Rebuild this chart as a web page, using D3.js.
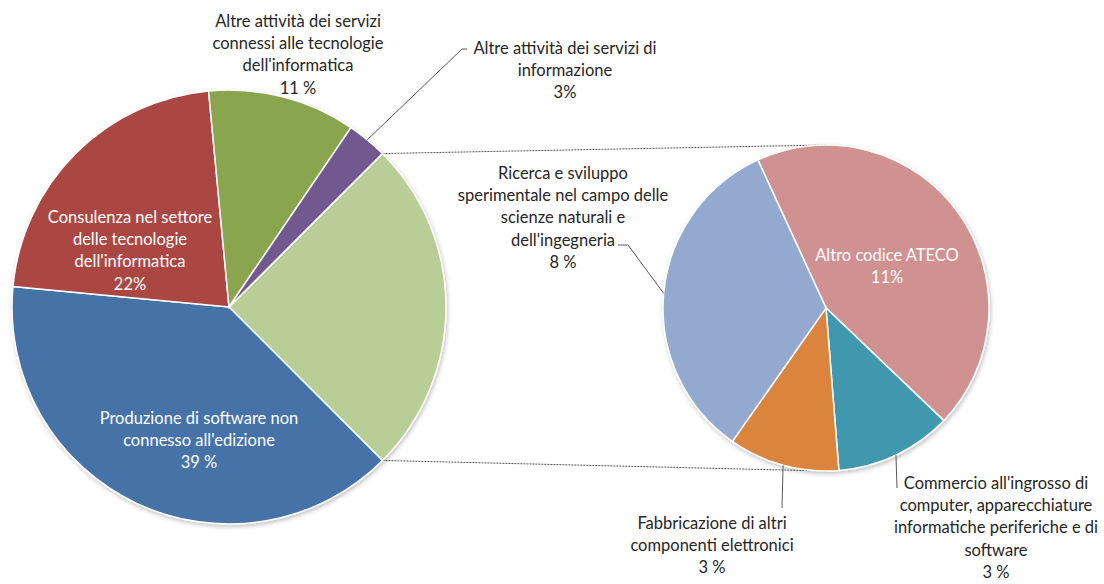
<!DOCTYPE html>
<html><head><meta charset="utf-8">
<script src="https://cdn.jsdelivr.net/npm/d3@7/dist/d3.min.js"></script>
<style>body{margin:0;background:#fff}svg{display:block}</style>
</head><body>
<svg id="c" width="1104" height="584"></svg>
<script>
// ---- data ----
const mainCategories = ["Altro", "Produzione di software non connesso all'edizione", "Consulenza nel settore delle tecnologie dell'informatica", "Altre attività dei servizi connessi alle tecnologie dell'informatica", "Altre attività dei servizi di informazione"];
const mainValues = [null, 39, 22, 11, 3]; // first = sum of secondary pie
const mainPctLabels = ["", "39 %", "22%", "11 %", "3%"];
const subCategories = ["Altro codice ATECO", "Commercio all'ingrosso di computer, apparecchiature informatiche periferiche e di software", "Fabbricazione di altri componenti elettronici", "Ricerca e sviluppo sperimentale nel campo delle scienze naturali e dell'ingegneria"];
const subValues = [11.0, 2.9, 2.75, 8.35];
const subPctLabels = ["11%", "3 %", "3 %", "8 %"];

// ---- layout / style ----
const mainColors = ["#B9CD96", "#4572A7", "#AA4643", "#89A54E", "#71588F"];
const subColors = ["#D09291", "#4198AF", "#DB843D", "#93A9CF"];
const mainLines = [null,
  ["Produzione di software non", "connesso all'edizione"],
  ["Consulenza nel settore", "delle tecnologie", "dell'informatica"],
  ["Altre attività dei servizi", "connessi alle tecnologie", "dell'informatica"],
  ["Altre attività dei servizi di", "informazione"]];
const subLines = [["Altro codice ATECO"],
  ["Commercio all'ingrosso di", "computer, apparecchiature", "informatiche periferiche e di", "software"],
  ["Fabbricazione di altri", "componenti elettronici"],
  ["Ricerca e sviluppo", "sperimentale nel campo delle", "scienze naturali e", "dell'ingegneria"]];
const mainLabelPos = [null, {x:199,y:418,c:"#fff"}, {x:130,y:217,c:"#fff"}, {x:298,y:21,c:"#262626"}, {x:565,y:48,c:"#262626"}];
const subLabelPos = [{x:887,y:255,c:"#fff"}, {x:996,y:483,c:"#262626"}, {x:712,y:523,c:"#262626"}, {x:563,y:173,c:"#262626"}];
const leaderMain = {4: [[462,49],[467,49]]};
const leaderSub = {1: [[897,488]], 2: [[782,508]], 3: [[628,245],[618,245]]};
const lineH = 22.3;
const FONT = "Lato, 'Open Sans', sans-serif";
const FS = 16.5;

const M = {cx:229, cy:307, r:217};
const S = {cx:826, cy:308, r:163};

const svg = d3.select("#c");
const defs = svg.append("defs");
const f = defs.append("filter").attr("id","sh").attr("x","-10%").attr("y","-10%").attr("width","120%").attr("height","120%");
f.append("feDropShadow").attr("dx",1).attr("dy",2).attr("stdDeviation",2).attr("flood-color","#000").attr("flood-opacity",0.25);

const mainVals = mainValues.slice(); mainVals[0] = d3.sum(subValues);
const pieMain = d3.pie().sort(null).value(d=>d).startAngle(Math.PI/4).endAngle(Math.PI/4 + 2*Math.PI);
const mainArcs = pieMain(mainVals);
const subStart = -24.7*Math.PI/180;
const pieSub = d3.pie().sort(null).value(d=>d).startAngle(subStart).endAngle(subStart + 2*Math.PI);
const subArcs = pieSub(subValues);

const pt = (c, a, r) => [c.cx + r*Math.sin(a), c.cy - r*Math.cos(a)];

// connector lines
const o = mainArcs[0];
const conn = [[pt(M, o.startAngle, M.r), [S.cx, S.cy - S.r]], [pt(M, o.endAngle, M.r), [S.cx, S.cy + S.r]]];
svg.selectAll("line.conn").data(conn).enter().append("line")
  .attr("x1",d=>d[0][0]).attr("y1",d=>d[0][1]).attr("x2",d=>d[1][0]).attr("y2",d=>d[1][1])
  .attr("stroke","#555").attr("stroke-width",1).attr("stroke-dasharray","2,1");

const arcM = d3.arc().innerRadius(0).outerRadius(M.r);
const arcS = d3.arc().innerRadius(0).outerRadius(S.r);
svg.append("g").attr("transform",`translate(${M.cx},${M.cy})`).attr("filter","url(#sh)")
  .selectAll("path").data(mainArcs).enter().append("path")
  .attr("d",arcM).attr("fill",(d,i)=>mainColors[i]).attr("stroke","#fff").attr("stroke-width",1.5);
svg.append("g").attr("transform",`translate(${S.cx},${S.cy})`).attr("filter","url(#sh)")
  .selectAll("path").data(subArcs).enter().append("path")
  .attr("d",arcS).attr("fill",(d,i)=>subColors[i]).attr("stroke","#fff").attr("stroke-width",1.5);

// leader lines
function leader(c, a, pts){
  const p0 = pt(c, (a.startAngle+a.endAngle)/2, c.r);
  svg.append("path").attr("d", d3.line()([p0, ...pts])).attr("fill","none").attr("stroke","#595959").attr("stroke-width",1);
}
Object.entries(leaderMain).forEach(([i,p])=>leader(M, mainArcs[+i], p));
Object.entries(leaderSub).forEach(([i,p])=>leader(S, subArcs[+i], p));

// labels
function label(pos, lines, pct){
  const t = svg.append("text").attr("font-family",FONT).attr("font-size",FS).attr("fill",pos.c).attr("text-anchor","middle");
  [...lines, pct].forEach((s,k)=>t.append("tspan").attr("x",pos.x).attr("y",pos.y + k*lineH).attr("dy","0.35em").text(s));
}
mainLabelPos.forEach((p,i)=>{ if(p) label(p, mainLines[i], mainPctLabels[i]); });
subLabelPos.forEach((p,i)=>label(p, subLines[i], subPctLabels[i]));
</script>
</body></html>
